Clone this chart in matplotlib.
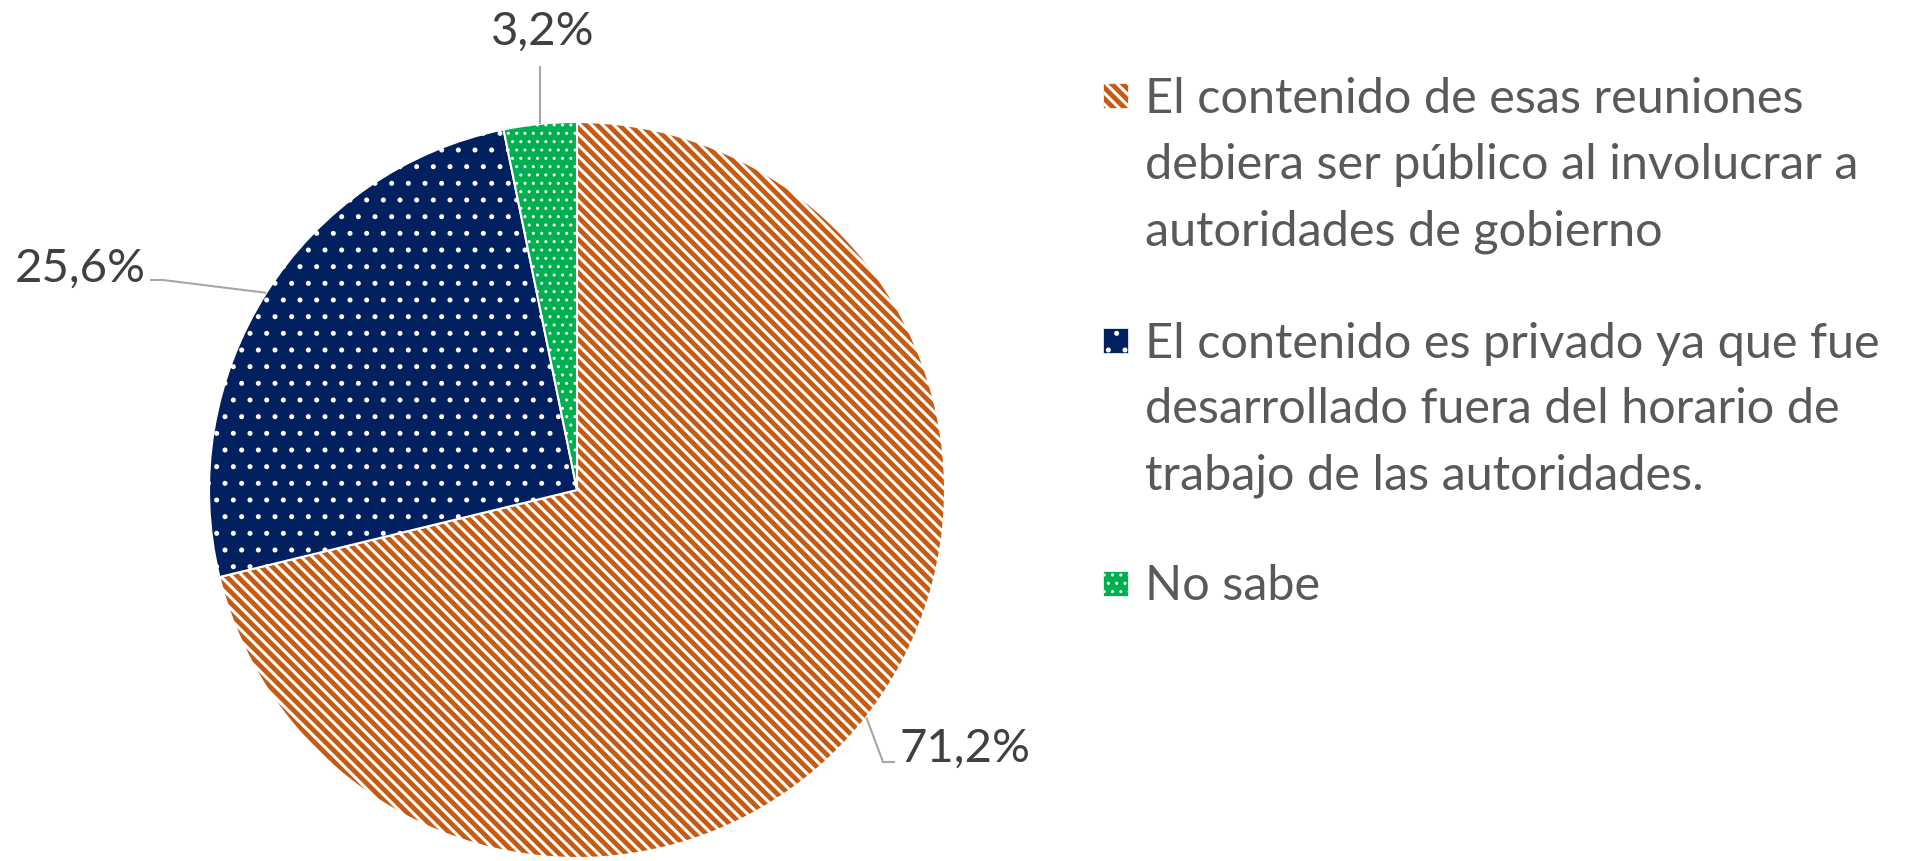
import numpy as np
import matplotlib
matplotlib.use("Agg")
import matplotlib.pyplot as plt
from matplotlib.patches import Rectangle

plt.rcParams['font.family'] = ['Lato', 'DejaVu Sans']

# ---- data ----
categories = [
    "El contenido de esas reuniones debiera ser público al involucrar a autoridades de gobierno",
    "El contenido es privado ya que fue desarrollado fuera del horario de trabajo de las autoridades.",
    "No sabe",
]
legend_lines = [
    ["El contenido de esas reuniones", "debiera ser público al involucrar a", "autoridades de gobierno"],
    ["El contenido es privado ya que fue", "desarrollado fuera del horario de", "trabajo de las autoridades."],
    ["No sabe"],
]
values = [71.2, 25.6, 3.2]
value_labels = ["71,2%", "25,6%", "3,2%"]

colors = ["#C55A11", "#002060", "#00B050"]
hatches = ["\\\\\\", ".", ".."]
hatch_lw = [2.2, 1.2, 1.0]
TEXT = "#404040"
LEG_TEXT = "#595959"
LEAD = "#A6A6A6"

W, H = 1909, 862
fig = plt.figure(figsize=(W / 100, H / 100), dpi=100)
ax = fig.add_axes([0, 0, 1, 1])

CX, CY, R = 577, 491, 368  # pixel center & radius


def px(x, y):
    return (x - CX) / R, (CY - y) / R


wedges, _ = ax.pie(values, colors=colors, startangle=90, counterclock=False,
                   radius=1, center=(0, 0),
                   wedgeprops=dict(edgecolor='white', linewidth=1.5))
for w, h, lw in zip(wedges, hatches, hatch_lw):
    w.set_hatch(h)
    if hasattr(w, 'set_hatch_linewidth'):
        w.set_hatch_linewidth(lw)
    else:
        w._hatch_linewidth = lw

ax.set_xlim((0 - CX) / R, (W - CX) / R)
ax.set_ylim((CY - H) / R, CY / R)
ax.set_aspect('equal', adjustable='datalim')
ax.axis('off')

mids = [np.deg2rad((w.theta1 + w.theta2) / 2) for w in wedges]

FS = 34
label_pos = [(965, 762), (80, 282), (543, 45)]
leader_mid = [(883, 763), (163, 281), None]
leader_end = [(895, 763), (150, 281), (540, 67)]
for i, (lab, pos) in enumerate(zip(value_labels, label_pos)):
    x, y = px(*pos)
    ax.text(x, y, lab, ha='center', va='baseline', fontsize=FS, color=TEXT)
    sx, sy = np.cos(mids[i]), np.sin(mids[i])
    if i == 2:
        ex, ey = px(*leader_end[i])
        pts = [(sx, sy), (sx, ey)]
    else:
        pts = [(sx, sy), px(*leader_mid[i]), px(*leader_end[i])]
    xs, ys = zip(*pts)
    ax.plot(xs, ys, color=LEAD, lw=1.5, solid_capstyle='butt')

# legend
LINE = 66
entry_cap_centers = [96.5, 341, 584]
sq = 25
for i, lines in enumerate(legend_lines):
    cc = entry_cap_centers[i]
    x0, y0 = px(1103, cc + sq / 2)
    r = Rectangle((x0, y0), sq / R, sq / R, facecolor=colors[i], edgecolor='white',
                  linewidth=0.5, hatch=hatches[i])
    if hasattr(r, 'set_hatch_linewidth'):
        r.set_hatch_linewidth(hatch_lw[i])
    else:
        r._hatch_linewidth = hatch_lw[i]
    ax.add_patch(r)
    for j, line in enumerate(lines):
        tx, ty = px(1145, cc + 16.5 + j * LINE)
        ax.text(tx, ty, line, ha='left', va='baseline', fontsize=35, color=LEG_TEXT)

fig.savefig("out.png", dpi=100, facecolor='white')
